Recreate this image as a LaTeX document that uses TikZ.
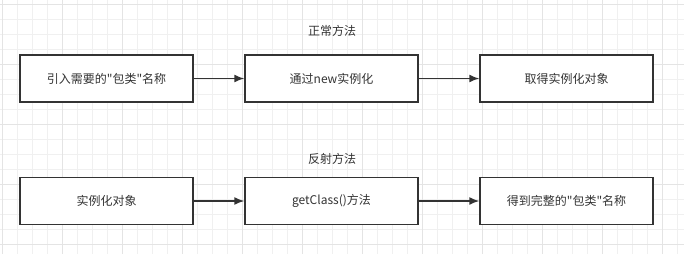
\documentclass[tikz,border=0pt]{standalone}
\usepackage{fontspec}
\setmainfont{Noto Sans CJK SC}
\usetikzlibrary{arrows.meta}
\definecolor{gridminor}{HTML}{F0F0F0}
\definecolor{gridmajor}{HTML}{E4E4E4}
\definecolor{ink}{HTML}{333333}
\tikzset{
  stepbox/.style={draw=ink,line width=1.1pt,fill=white,minimum width=129.75pt,minimum height=35.25pt,inner sep=0pt,text=ink,font=\fontsize{9}{11}\selectfont},
  flow/.style={draw=ink,line width=1.1pt,-{Latex[length=7.5pt,width=6pt]}},
  caption/.style={text=ink,font=\fontsize{9}{11}\selectfont}
}
\newcommand{\dq}{\textquotedbl}
\begin{document}
\begin{tikzpicture}[x=0.75pt,y=-0.75pt]
\useasboundingbox (0,0) rectangle (684,254);
\fill[white] (0,0) rectangle (684,254);
% grid
\foreach \x in {2.7,17.7,...,684} \draw[gridminor,line width=0.75pt] (\x,0) -- (\x,254);
\foreach \y in {4.3,19.3,...,254} \draw[gridminor,line width=0.75pt] (0,\y) -- (684,\y);
\foreach \x in {2.7,62.7,...,684} \draw[gridmajor,line width=0.75pt] (\x,0) -- (\x,254);
\foreach \y in {4.3,64.3,...,254} \draw[gridmajor,line width=0.75pt] (0,\y) -- (684,\y);
% normal way
\node[caption] (normal) at (332,31) {正常方法};
\node[stepbox] (import) at (106.5,78.5) {引入需要的\dq 包类\dq 名称};
\node[stepbox] (new) at (331.5,78.5) {通过new实例化};
\node[stepbox] (obj) at (566.5,78.5) {取得实例化对象};
\draw[flow] (import) -- (new);
\draw[flow] (new) -- (obj);
% reflection
\node[caption] (reflect) at (332,159) {反射方法};
\node[stepbox] (inst) at (106.5,201) {实例化对象};
\node[stepbox] (getclass) at (331.5,201) {getClass()方法};
\node[stepbox] (fullname) at (566.5,201) {得到完整的\dq 包类\dq 名称};
\draw[flow] (inst) -- (getclass);
\draw[flow] (getclass) -- (fullname);
\end{tikzpicture}
\end{document}
